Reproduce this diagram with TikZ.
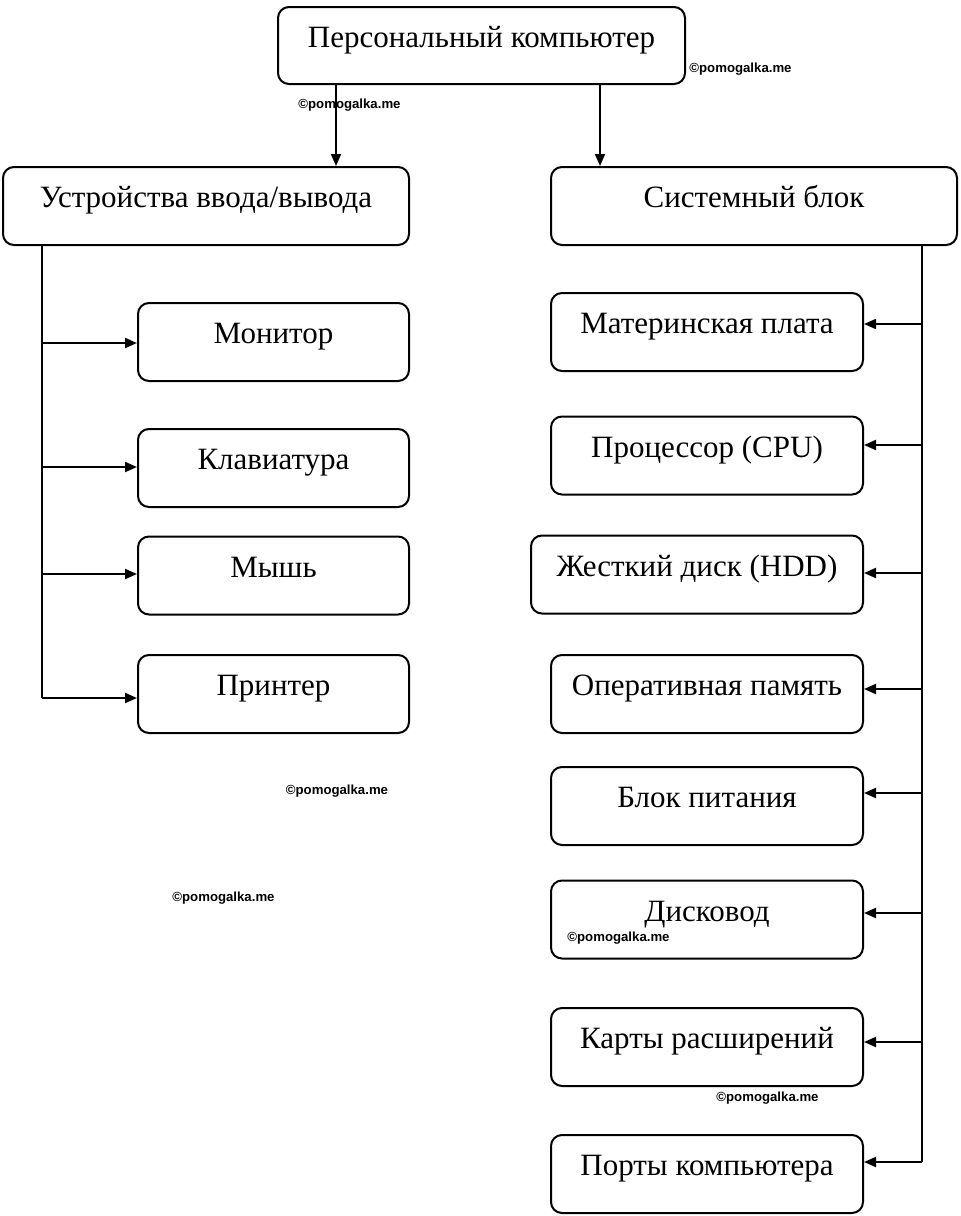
\documentclass[tikz,border=0pt]{standalone}
\usepackage{fontspec}
\setmainfont{Liberation Serif}
\newfontfamily\wmfont{Liberation Sans}
\usetikzlibrary{arrows.meta}
\newcommand{\wmk}[1]{{\wmfont\bfseries\fontsize{6.6}{8}\selectfont #1}}
\tikzset{
    b1/.style={draw=black, line width=1pt, rounded corners=5.5pt, inner sep=0pt,
        text height=1.5pt, text depth=0pt, font=\fontsize{15.5}{18}\selectfont},
    top/.style={b1, minimum width=203.5pt, minimum height=38.5pt},
    hd/.style={b1, minimum width=203pt, minimum height=39pt},
    lf/.style={b1, minimum width=135.5pt, minimum height=39pt},
    rt/.style={b1, minimum width=156pt, minimum height=39pt},
    e0/.style={draw=black, line width=1pt},
    e1/.style={draw=black, -{Triangle[length=6pt,width=5pt]}, line width=1pt}
}

\begin{document}
\begin{tikzpicture}[x=0.5pt, y=-0.5pt]
\useasboundingbox (0,0) rectangle (960,1216);

% Level 1
\node[top] (PC) at (481.5, 45.5) {Персональный компьютер};

% Level 2
\node[hd] (IO) at (206, 206) {Устройства ввода/вывода};
\node[hd] (SB) at (754, 206) {Системный блок};

% Level 3, left (x = 273.5)
\node[lf] (IO1) at (273.5, 342) {Монитор};
\node[lf] (IO2) at (273.5, 468) {Клавиатура};
\node[lf] (IO3) at (273.5, 575.5) {Мышь};
\node[lf] (IO4) at (273.5, 694) {Принтер};

% Level 3, right (x = 707)
\node[rt] (SB1) at (707, 332) {Материнская плата};
\node[rt] (SB2) at (707, 455.5) {Процессор (CPU)};
\node[rt, minimum width=166pt] (SB3) at (697, 574.5) {Жесткий диск (HDD)};
\node[rt] (SB4) at (707, 694) {Оперативная память};
\node[rt] (SB5) at (707, 806) {Блок питания};
\node[rt] (SB6) at (707, 919.5) {Дисковод};
\node[rt] (SB7) at (707, 1047) {Карты расширений};
\node[rt] (SB8) at (707, 1174) {Порты компьютера};

% watermarks
\node (W1) at (349.5, 105) {\wmk{©pomogalka.me}};
\node (W2) at (740.5, 69) {\wmk{©pomogalka.me}};
\node (W3) at (337, 791) {\wmk{©pomogalka.me}};
\node (W4) at (223.5, 898) {\wmk{©pomogalka.me}};
\node (W5) at (618.5, 938) {\wmk{©pomogalka.me}};
\node (W6) at (767.5, 1098) {\wmk{©pomogalka.me}};

% branch points
\coordinate (XL) at (336, 0);
\coordinate (XR) at (600, 0);
\coordinate (L1) at (42, 343);
\coordinate (L2) at (42, 467);
\coordinate (L3) at (42, 574);
\coordinate (L4) at (42, 698);
\coordinate (R1) at (922, 324);
\coordinate (R2) at (922, 445);
\coordinate (R3) at (922, 573);
\coordinate (R4) at (922, 689);
\coordinate (R5) at (922, 793);
\coordinate (R6) at (922, 913);
\coordinate (R7) at (922, 1042);
\coordinate (R8) at (922, 1162);

% Level 1 -> 2
\draw[e1] (PC.south -| XL) -- (IO.north -| XL);
\draw[e1] (PC.south -| XR) -- (SB.north -| XR);

% Left trunk
\draw[e0] (IO.south -| L4) -- (L4);
\draw[e1] (L1) -- (L1 -| IO1.west);
\draw[e1] (L2) -- (L2 -| IO2.west);
\draw[e1] (L3) -- (L3 -| IO3.west);
\draw[e1] (L4) -- (L4 -| IO4.west);

% Right trunk
\draw[e0] (SB.south -| R8) -- (R8);
\draw[e1] (R1) -- (R1 -| SB1.east);
\draw[e1] (R2) -- (R2 -| SB2.east);
\draw[e1] (R3) -- (R3 -| SB3.east);
\draw[e1] (R4) -- (R4 -| SB4.east);
\draw[e1] (R5) -- (R5 -| SB5.east);
\draw[e1] (R6) -- (R6 -| SB6.east);
\draw[e1] (R7) -- (R7 -| SB7.east);
\draw[e1] (R8) -- (R8 -| SB8.east);

\end{tikzpicture}
\end{document}
